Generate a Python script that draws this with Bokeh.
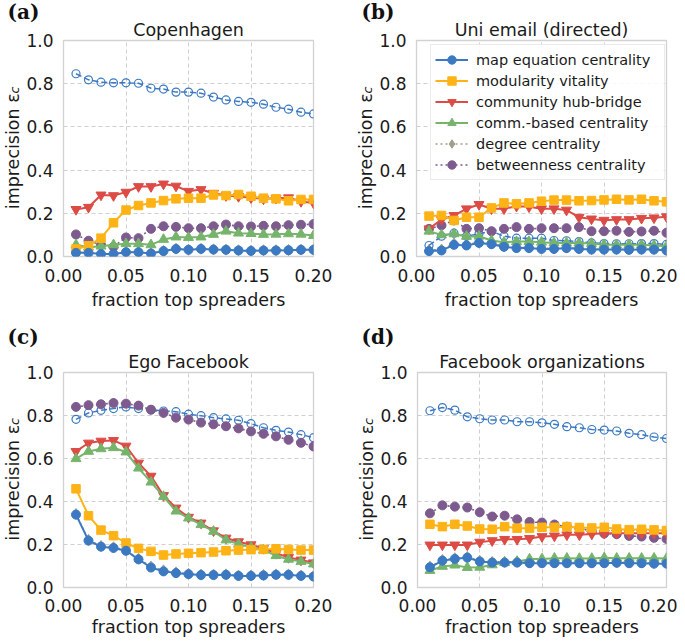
from bokeh.plotting import figure
from bokeh.layouts import column, row
from bokeh.models import Range1d, FixedTicker, NumeralTickFormatter, Legend, LegendItem, Title
from bokeh.embed import file_html
from bokeh.resources import INLINE

x = [0.01, 0.02, 0.03, 0.04, 0.05, 0.06, 0.07, 0.08, 0.09, 0.10,
     0.11, 0.12, 0.13, 0.14, 0.15, 0.16, 0.17, 0.18, 0.19, 0.20]

# (a) Copenhagen
a_map = [0.017, 0.017, 0.012, 0.012, 0.020, 0.020, 0.014, 0.025, 0.035, 0.031,
         0.035, 0.032, 0.031, 0.028, 0.026, 0.028, 0.028, 0.029, 0.031, 0.031]
a_mod = [0.035, 0.050, 0.085, 0.156, 0.215, 0.236, 0.248, 0.259, 0.267, 0.270,
         0.270, 0.285, 0.282, 0.287, 0.279, 0.270, 0.267, 0.258, 0.264, 0.264]
a_hub = [0.218, 0.228, 0.285, 0.282, 0.298, 0.324, 0.324, 0.336, 0.326, 0.302,
         0.310, 0.293, 0.282, 0.278, 0.272, 0.267, 0.270, 0.272, 0.255, 0.248]
a_comm = [0.054, 0.043, 0.048, 0.054, 0.059, 0.059, 0.054, 0.079, 0.090, 0.088,
          0.090, 0.102, 0.117, 0.108, 0.106, 0.102, 0.103, 0.105, 0.103, 0.097]
a_deg = [0.019, 0.018, 0.013, 0.013, 0.021, 0.021, 0.015, 0.026, 0.036, 0.032,
         0.036, 0.033, 0.032, 0.029, 0.027, 0.029, 0.029, 0.030, 0.032, 0.032]
a_btw = [0.102, 0.073, 0.054, 0.045, 0.088, 0.085, 0.128, 0.140, 0.137, 0.131,
         0.131, 0.140, 0.148, 0.140, 0.139, 0.142, 0.140, 0.145, 0.147, 0.150]
a_rnd = [0.846, 0.818, 0.807, 0.804, 0.804, 0.802, 0.779, 0.775, 0.761, 0.761,
         0.756, 0.738, 0.725, 0.718, 0.714, 0.705, 0.691, 0.682, 0.668, 0.660]

# (b) Uni email (directed)
b_map = [0.025, 0.028, 0.054, 0.051, 0.063, 0.057, 0.045, 0.039, 0.039, 0.035,
         0.035, 0.039, 0.035, 0.032, 0.032, 0.032, 0.031, 0.032, 0.032, 0.028]
b_mod = [0.187, 0.190, 0.167, 0.182, 0.182, 0.225, 0.248, 0.244, 0.248, 0.256,
         0.261, 0.261, 0.258, 0.259, 0.262, 0.265, 0.262, 0.265, 0.258, 0.253]
b_hub = [0.128, 0.171, 0.190, 0.221, 0.241, 0.221, 0.221, 0.233, 0.230, 0.221,
         0.221, 0.215, 0.182, 0.174, 0.168, 0.171, 0.171, 0.177, 0.179, 0.184]
b_comm = [0.117, 0.100, 0.105, 0.093, 0.094, 0.074, 0.066, 0.069, 0.069, 0.066,
          0.063, 0.063, 0.062, 0.060, 0.054, 0.054, 0.054, 0.054, 0.051, 0.048]
b_deg = [0.030, 0.032, 0.060, 0.056, 0.066, 0.060, 0.048, 0.042, 0.041, 0.038,
         0.037, 0.041, 0.037, 0.034, 0.034, 0.034, 0.033, 0.034, 0.034, 0.030]
b_btw = [0.128, 0.144, 0.167, 0.128, 0.131, 0.117, 0.128, 0.136, 0.128, 0.131,
         0.131, 0.131, 0.136, 0.117, 0.117, 0.119, 0.114, 0.116, 0.119, 0.110]
b_rnd = [0.051, 0.094, 0.108, 0.094, 0.105, 0.117, 0.094, 0.085, 0.085, 0.085,
         0.074, 0.073, 0.069, 0.063, 0.060, 0.059, 0.059, 0.060, 0.060, 0.056]

# (c) Ego Facebook
c_map = [0.339, 0.218, 0.190, 0.184, 0.171, 0.131, 0.093, 0.075, 0.067, 0.062,
         0.058, 0.058, 0.059, 0.054, 0.054, 0.056, 0.059, 0.059, 0.054, 0.051]
c_mod = [0.459, 0.334, 0.267, 0.241, 0.207, 0.182, 0.168, 0.151, 0.156, 0.159,
         0.162, 0.165, 0.171, 0.174, 0.176, 0.177, 0.180, 0.177, 0.174, 0.174]
c_hub = [0.633, 0.672, 0.681, 0.684, 0.658, 0.579, 0.518, 0.428, 0.370, 0.327,
         0.300, 0.264, 0.230, 0.213, 0.199, 0.182, 0.159, 0.140, 0.128, 0.115]
c_comm = [0.599, 0.633, 0.645, 0.650, 0.630, 0.555, 0.490, 0.423, 0.355, 0.323,
          0.292, 0.261, 0.221, 0.202, 0.187, 0.174, 0.148, 0.131, 0.121, 0.109]
c_deg = [0.342, 0.222, 0.193, 0.187, 0.174, 0.134, 0.097, 0.080, 0.070, 0.064,
         0.060, 0.060, 0.061, 0.056, 0.056, 0.058, 0.061, 0.061, 0.056, 0.053]
c_btw = [0.840, 0.848, 0.852, 0.858, 0.855, 0.846, 0.827, 0.812, 0.790, 0.781,
         0.767, 0.759, 0.750, 0.740, 0.726, 0.715, 0.703, 0.687, 0.673, 0.656]
c_rnd = [0.782, 0.812, 0.824, 0.832, 0.840, 0.832, 0.827, 0.821, 0.818, 0.806,
         0.799, 0.790, 0.784, 0.778, 0.762, 0.743, 0.731, 0.723, 0.711, 0.697]

# (d) Facebook organizations
d_map = [0.094, 0.125, 0.133, 0.139, 0.121, 0.116, 0.116, 0.116, 0.113, 0.113,
         0.113, 0.113, 0.113, 0.113, 0.113, 0.115, 0.113, 0.113, 0.111, 0.111]
d_mod = [0.294, 0.283, 0.294, 0.286, 0.272, 0.271, 0.283, 0.276, 0.276, 0.280,
         0.280, 0.283, 0.279, 0.277, 0.280, 0.272, 0.269, 0.271, 0.268, 0.265]
d_hub = [0.198, 0.198, 0.198, 0.198, 0.211, 0.218, 0.224, 0.224, 0.228, 0.237,
         0.240, 0.245, 0.245, 0.249, 0.252, 0.252, 0.252, 0.252, 0.252, 0.252]
d_comm = [0.079, 0.098, 0.104, 0.093, 0.094, 0.105, 0.116, 0.121, 0.132, 0.133,
          0.136, 0.136, 0.135, 0.135, 0.138, 0.136, 0.136, 0.136, 0.136, 0.135]
d_deg = [0.097, 0.128, 0.136, 0.142, 0.124, 0.119, 0.119, 0.119, 0.116, 0.116,
         0.116, 0.116, 0.116, 0.116, 0.116, 0.118, 0.116, 0.116, 0.114, 0.114]
d_btw = [0.345, 0.382, 0.376, 0.372, 0.350, 0.330, 0.334, 0.317, 0.305, 0.302,
         0.293, 0.283, 0.276, 0.262, 0.251, 0.248, 0.240, 0.237, 0.231, 0.226]
d_rnd = [0.822, 0.837, 0.825, 0.794, 0.785, 0.779, 0.779, 0.771, 0.771, 0.766,
         0.759, 0.748, 0.743, 0.735, 0.732, 0.728, 0.717, 0.711, 0.700, 0.693]

titles = ["Copenhagen", "Uni email (directed)", "Ego Facebook", "Facebook organizations"]
panel_tags = ["(a)", "(b)", "(c)", "(d)"]
x_ticks = [0.0, 0.05, 0.10, 0.15, 0.20]
y_ticks = [0.0, 0.2, 0.4, 0.6, 0.8, 1.0]
legend_labels = ["map equation centrality", "modularity vitality", "community hub-bridge",
                 "comm.-based centrality", "degree centrality", "betweenness centrality"]
y_label = "imprecision ε "
y_label_sub = "c"

BLUE = "#3b79c2"
ORANGE = "#fdb316"
RED = "#dc4c45"
GREEN = "#76b46c"
GRAY = "#a39f8b"
PURPLE = "#7d5b8e"
TXT = "#1a1a1a"
FONT = "DejaVu Sans"

data = [
    (a_map, a_mod, a_hub, a_comm, a_deg, a_btw, a_rnd),
    (b_map, b_mod, b_hub, b_comm, b_deg, b_btw, b_rnd),
    (c_map, c_mod, c_hub, c_comm, c_deg, c_btw, c_rnd),
    (d_map, d_mod, d_hub, d_comm, d_deg, d_btw, d_rnd),
]

# layout geometry per panel: (border_left, frame_w, border_right, border_top, frame_h, border_bottom)
geom = [
    (55, 250, 29, 34, 216, 62),
    (74, 250, 11, 34, 216, 62),
    (55, 250, 29, 52, 215, 46),
    (75, 249, 11, 52, 215, 46),
]
tag_offset = [-56, -55, -56, -56]
tag_standoff = [-14, -14, -0.5, -0.5]
spacer_standoff = [1.3, 1.3, 0.5, 0.5]
xtick_standoff = [6, 6, 5, 5]
xlabel_standoff = [5, 5, 2, 2]


def make_panel(i):
    bl, fw, br, bt, fh, bb = geom[i]
    p = figure(frame_width=fw, frame_height=fh, min_border_left=bl, min_border_right=br,
               min_border_top=bt, min_border_bottom=bb, x_range=Range1d(0, 0.2),
               y_range=Range1d(0, 1.0), output_backend="svg", toolbar_location=None,
               title=" ")
    # outermost title: a tiny spacer
    p.title.text_font_size = "1px"
    p.title.standoff = spacer_standoff[i]
    # dataset name (inner)
    p.add_layout(Title(text=titles[i], align="center", standoff=2, text_font=FONT,
                       text_font_style="normal", text_font_size="17.5px", text_color=TXT),
                 "above")
    # panel tag (between spacer and name)
    p.add_layout(Title(text=panel_tags[i], align="left", offset=tag_offset[i],
                       standoff=tag_standoff[i], text_font="DejaVu Serif",
                       text_font_style="bold", text_font_size="20px", text_color="#111111"),
                 "above")
    p.background_fill_color = "white"
    p.border_fill_color = "white"
    p.outline_line_color = "#d2d2d2"
    p.outline_line_width = 1.3

    p.xaxis.ticker = FixedTicker(ticks=x_ticks)
    p.yaxis.ticker = FixedTicker(ticks=y_ticks)
    p.xaxis.formatter = NumeralTickFormatter(format="0.00")
    p.yaxis.formatter = NumeralTickFormatter(format="0.0")
    for ax in (p.xaxis, p.yaxis):
        ax.axis_line_color = None
        ax.major_tick_line_color = None
        ax.minor_tick_line_color = None
        ax.major_label_text_font = FONT
        ax.major_label_text_font_size = "17px"
        ax.major_label_text_color = TXT
        ax.axis_label_text_font = FONT
        ax.axis_label_text_font_size = "17.5px"
        ax.axis_label_text_font_style = "normal"
        ax.axis_label_text_color = TXT
    p.xaxis.major_label_standoff = xtick_standoff[i]
    p.xaxis.axis_label_standoff = xlabel_standoff[i]
    p.yaxis.major_label_standoff = 4
    p.yaxis.axis_label_standoff = 0
    p.xaxis.axis_label = "fraction top spreaders"
    p.yaxis.axis_label = y_label

    # subscript of the y label, pulled inward onto the axis label line
    p.add_layout(Title(text=y_label_sub, align="left", offset=fh / 2 + 55, standoff=-42,
                       text_font=FONT, text_font_style="italic", text_font_size="12.5px",
                       text_color=TXT), "left")

    for g in (p.xgrid, p.ygrid):
        g.grid_line_color = "#cfcfcf"
        g.grid_line_dash = "4 3"
        g.grid_line_width = 1

    mp, md, hb, cm, dg, bw, rn = data[i]

    r_deg_l = p.line(x, dg, line_color=GRAY, line_width=1.6, line_dash="2 3")
    r_deg_m = p.scatter(x, dg, marker="diamond", size=11, fill_color=GRAY, line_color=GRAY)

    p.line(x, rn, line_color=BLUE, line_width=1.5, line_dash="6 3")
    p.scatter(x, rn, marker="circle", size=8, fill_alpha=0, line_color=BLUE, line_width=1.2)

    r_btw_l = p.line(x, bw, line_color=PURPLE, line_width=1.6, line_dash="2 3")
    r_btw_m = p.scatter(x, bw, marker="circle", size=9, fill_color=PURPLE, line_color=PURPLE)

    r_hub_l = p.line(x, hb, line_color=RED, line_width=2)
    r_hub_m = p.scatter(x, hb, marker="inverted_triangle", size=10, fill_color=RED, line_color=RED)

    r_comm_l = p.line(x, cm, line_color=GREEN, line_width=2)
    r_comm_m = p.scatter(x, cm, marker="triangle", size=10, fill_color=GREEN, line_color=GREEN)

    r_mod_l = p.line(x, md, line_color=ORANGE, line_width=2)
    r_mod_m = p.scatter(x, md, marker="square", size=8.5, fill_color=ORANGE, line_color=ORANGE)

    r_map_l = p.line(x, mp, line_color=BLUE, line_width=2)
    r_map_m = p.scatter(x, mp, marker="circle", size=9, fill_color=BLUE, line_color=BLUE)

    if i == 1:
        items = [
            LegendItem(label=legend_labels[0], renderers=[r_map_l, r_map_m]),
            LegendItem(label=legend_labels[1], renderers=[r_mod_l, r_mod_m]),
            LegendItem(label=legend_labels[2], renderers=[r_hub_l, r_hub_m]),
            LegendItem(label=legend_labels[3], renderers=[r_comm_l, r_comm_m]),
            LegendItem(label=legend_labels[4], renderers=[r_deg_l, r_deg_m]),
            LegendItem(label=legend_labels[5], renderers=[r_btw_l, r_btw_m]),
        ]
        leg = Legend(items=items, location=(14, 76), margin=0, padding=4, spacing=0,
                     label_height=21, glyph_height=21, glyph_width=33, label_standoff=8,
                     label_width=184, label_text_font=FONT, label_text_font_size="14.5px",
                     label_text_color=TXT, border_line_color="#d8d8d8", border_line_width=1,
                     background_fill_color="white", background_fill_alpha=0.85)
        p.add_layout(leg, "center")
    return p


panels = [make_panel(i) for i in range(4)]
layout = column(row(panels[0], panels[1]), row(panels[2], panels[3]))
open("out.html", "w").write(file_html(layout, INLINE))
